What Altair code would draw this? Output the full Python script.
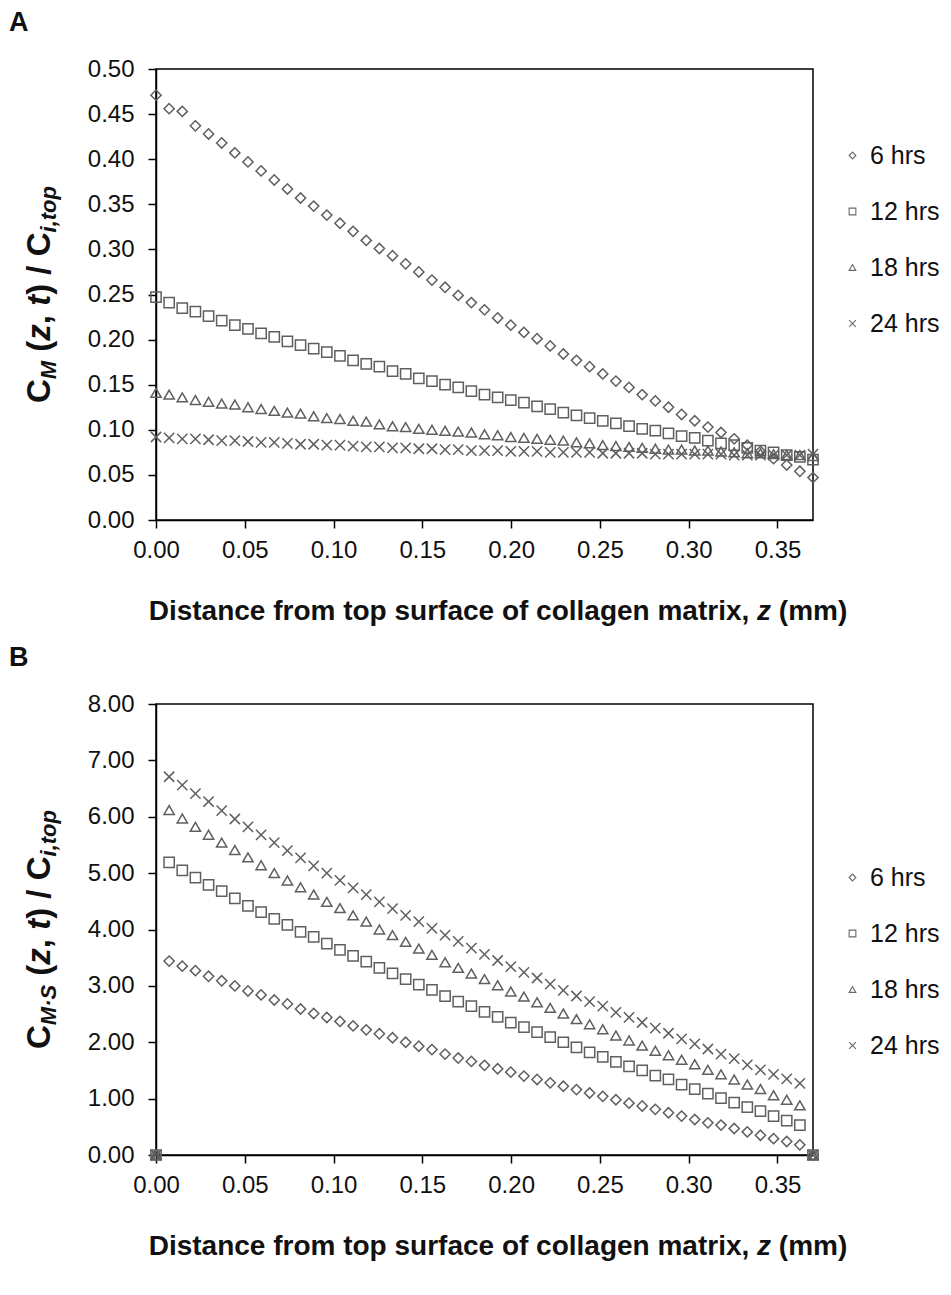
import altair as alt
import pandas as pd

# ---------------- data ----------------
Z_MM = [0.0000, 0.0074, 0.0148, 0.0222, 0.0296, 0.0370, 0.0444, 0.0518, 0.0592, 0.0666,
        0.0740, 0.0814, 0.0888, 0.0962, 0.1036, 0.1110, 0.1184, 0.1258, 0.1332, 0.1406,
        0.1480, 0.1554, 0.1628, 0.1702, 0.1776, 0.1850, 0.1924, 0.1998, 0.2072, 0.2146,
        0.2220, 0.2294, 0.2368, 0.2442, 0.2516, 0.2590, 0.2664, 0.2738, 0.2812, 0.2886,
        0.2960, 0.3034, 0.3108, 0.3182, 0.3256, 0.3330, 0.3404, 0.3478, 0.3552, 0.3626,
        0.3700]

SERIES = ["6 hrs", "12 hrs", "18 hrs", "24 hrs"]

A_6 = [0.471, 0.456, 0.453, 0.437, 0.428, 0.418, 0.407, 0.397, 0.387, 0.377, 0.367, 0.357, 0.348,
       0.338, 0.329, 0.320, 0.310, 0.301, 0.293, 0.284, 0.275, 0.266, 0.258, 0.249, 0.241, 0.233,
       0.224, 0.216, 0.208, 0.201, 0.193, 0.184, 0.177, 0.170, 0.162, 0.154, 0.147, 0.139, 0.132,
       0.125, 0.117, 0.110, 0.103, 0.097, 0.090, 0.083, 0.076, 0.068, 0.061, 0.054, 0.047]
A_12 = [0.247, 0.241, 0.235, 0.231, 0.226, 0.221, 0.216, 0.212, 0.207, 0.203, 0.198, 0.194, 0.190,
        0.186, 0.182, 0.177, 0.173, 0.170, 0.165, 0.162, 0.157, 0.154, 0.150, 0.147, 0.143, 0.139,
        0.136, 0.133, 0.130, 0.126, 0.123, 0.119, 0.116, 0.113, 0.110, 0.107, 0.104, 0.101, 0.099,
        0.096, 0.093, 0.091, 0.088, 0.085, 0.083, 0.080, 0.077, 0.075, 0.072, 0.070, 0.067]
A_18 = [0.141, 0.139, 0.136, 0.133, 0.131, 0.129, 0.128, 0.125, 0.123, 0.121, 0.119, 0.118, 0.115,
        0.113, 0.112, 0.110, 0.109, 0.106, 0.104, 0.103, 0.101, 0.100, 0.099, 0.098, 0.097, 0.095,
        0.094, 0.092, 0.091, 0.090, 0.089, 0.088, 0.086, 0.085, 0.083, 0.082, 0.081, 0.080, 0.079,
        0.078, 0.078, 0.077, 0.077, 0.076, 0.075, 0.074, 0.074, 0.073, 0.072, 0.072, 0.071]
A_24 = [0.092, 0.091, 0.090, 0.090, 0.089, 0.088, 0.088, 0.087, 0.086, 0.086, 0.085, 0.084, 0.084,
        0.083, 0.083, 0.082, 0.081, 0.081, 0.080, 0.080, 0.079, 0.079, 0.078, 0.078, 0.077, 0.077,
        0.077, 0.076, 0.076, 0.076, 0.075, 0.075, 0.075, 0.075, 0.074, 0.074, 0.074, 0.074, 0.073,
        0.073, 0.073, 0.073, 0.073, 0.073, 0.072, 0.072, 0.072, 0.072, 0.072, 0.072, 0.073]

B_6 = [0.00, 3.44, 3.35, 3.27, 3.17, 3.09, 3.00, 2.91, 2.84, 2.75, 2.68, 2.59, 2.51, 2.44, 2.37,
       2.29, 2.22, 2.15, 2.08, 2.00, 1.93, 1.87, 1.79, 1.72, 1.66, 1.59, 1.53, 1.47, 1.40, 1.34,
       1.28, 1.22, 1.16, 1.10, 1.04, 0.98, 0.92, 0.87, 0.81, 0.75, 0.69, 0.63, 0.57, 0.53, 0.47,
       0.41, 0.35, 0.29, 0.24, 0.18, 0.00]
B_12 = [0.00, 5.19, 5.05, 4.92, 4.79, 4.68, 4.55, 4.42, 4.31, 4.19, 4.08, 3.96, 3.87, 3.75, 3.64,
        3.53, 3.43, 3.32, 3.22, 3.12, 3.02, 2.93, 2.82, 2.72, 2.64, 2.54, 2.45, 2.35, 2.27, 2.18,
        2.09, 2.00, 1.91, 1.82, 1.74, 1.65, 1.57, 1.50, 1.41, 1.34, 1.25, 1.17, 1.09, 1.01, 0.93,
        0.85, 0.78, 0.69, 0.61, 0.53, 0.00]
B_18 = [0.00, 6.12, 5.97, 5.82, 5.68, 5.54, 5.41, 5.28, 5.14, 5.00, 4.87, 4.75, 4.62, 4.49, 4.38,
        4.25, 4.14, 4.00, 3.90, 3.78, 3.66, 3.55, 3.42, 3.32, 3.22, 3.12, 3.01, 2.90, 2.81, 2.71,
        2.61, 2.51, 2.41, 2.32, 2.23, 2.12, 2.03, 1.94, 1.85, 1.77, 1.69, 1.61, 1.51, 1.43, 1.34,
        1.25, 1.17, 1.06, 0.98, 0.88, 0.00]
B_24 = [0.00, 6.71, 6.56, 6.41, 6.27, 6.11, 5.96, 5.82, 5.68, 5.54, 5.40, 5.27, 5.13, 5.00, 4.87,
        4.74, 4.62, 4.49, 4.37, 4.25, 4.14, 4.02, 3.90, 3.79, 3.67, 3.56, 3.45, 3.34, 3.24, 3.14,
        3.03, 2.92, 2.82, 2.72, 2.64, 2.53, 2.44, 2.35, 2.25, 2.16, 2.06, 1.97, 1.88, 1.79, 1.71,
        1.60, 1.51, 1.43, 1.35, 1.27, 0.00]

X_TICKS = [0.00, 0.05, 0.10, 0.15, 0.20, 0.25, 0.30, 0.35]
A_TICKS = [0.00, 0.05, 0.10, 0.15, 0.20, 0.25, 0.30, 0.35, 0.40, 0.45, 0.50]
B_TICKS = [0, 1, 2, 3, 4, 5, 6, 7, 8]

X_TITLE = [("Distance from top surface of collagen matrix, ", False), ("z", True), (" (mm)", False)]
A_YTITLE = [("C", "n"), ("M", "s"), (" (", "n"), ("z", "i"), (", ", "n"), ("t", "i"),
            (") / C", "n"), ("i,top", "s")]
B_YTITLE = [("C", "n"), ("M·S", "s"), (" (", "n"), ("z", "i"), (", ", "n"), ("t", "i"),
            (") / C", "n"), ("i,top", "s")]

# ---------------- styling ----------------
W, H = 657, 451
FONT = "Liberation Sans"
SHAPES = ["diamond", "square", "triangle-up", "M-1,-1L1,1M-1,1L1,-1"]
MARK_COLOR = "#5f5f5f"
XMAX = 0.37
TICK_FS = 24
LEG_FS = 25

BOLD_W = {"A": 722, "B": 722, "C": 722, "D": 722, "M": 833, "S": 667, " ": 278, "(": 333,
          ")": 333, "z": 500, ",": 278, "t": 333, "/": 278, "i": 278, "o": 611, "p": 611,
          "·": 333, "a": 556, "c": 556, "e": 556, "f": 333, "g": 611, "h": 611, "l": 278,
          "m": 889, "n": 611, "r": 389, "s": 556, "u": 611, "x": 556}


def tw(s, size):
    return sum(BOLD_W.get(c, 556) for c in s) * size / 1000.0


ONE = pd.DataFrame({"k": [0]})


def txt(text, x, y, size, italic=False, angle=0, align="left", baseline="alphabetic",
        color="#111111", weight="bold"):
    kw = dict(text=text, fontSize=size, font=FONT, fontWeight=weight, color=color,
              angle=angle, align=align, baseline=baseline)
    if italic:
        kw["fontStyle"] = "italic"
    return alt.Chart(ONE).mark_text(**kw).encode(x=alt.value(x), y=alt.value(y))


def place(piece, pos, size):
    lead = len(piece) - len(piece.lstrip(" "))
    return piece.strip(" "), pos + tw(" " * lead, size)


def y_title(pieces, F=33, f=22, xb=-106, shift=6):
    sizes = [f if k == "s" else F for _, k in pieces]
    total = sum(tw(p, s) for (p, _), s in zip(pieces, sizes))
    y0 = H / 2 + total / 2
    marks, cum = [], 0.0
    for (p, k), s in zip(pieces, sizes):
        t, off = place(p, cum, s)
        marks.append(txt(t, xb + (shift if k == "s" else 0), y0 - off, s,
                         italic=(k != "n"), angle=270))
        cum += tw(p, s)
    return marks


def x_title(F=28, center=342, yb=H + 100):
    total = sum(tw(p, F) for p, _ in X_TITLE)
    x0 = center - total / 2
    marks, cum = [], 0.0
    for p, it in X_TITLE:
        t, off = place(p, cum, F)
        marks.append(txt(t, x0 + off, yb, F, italic=it))
        cum += tw(p, F)
    return marks


def panel(vals, ydom, yticks, ypieces, letter, first_entry_y):
    df = pd.DataFrame({
        "z": Z_MM * len(SERIES),
        "v": [v for col in vals for v in col],
        "series": [s for s in SERIES for _ in Z_MM],
    })
    pts = alt.Chart(df).mark_point(filled=False, strokeWidth=1.5, size=105, opacity=1,
                                   color=MARK_COLOR).encode(
        x=alt.X("z:Q", scale=alt.Scale(domain=[0, XMAX], nice=False, zero=False),
                axis=alt.Axis(values=X_TICKS, format=".2f", title=None, grid=False,
                              labelPadding=10, labelFlush=False, labelOverlap=False)),
        y=alt.Y("v:Q", scale=alt.Scale(domain=ydom, nice=False),
                axis=alt.Axis(values=yticks, format=".2f", title=None, grid=False,
                              labelPadding=14, labelOverlap=False)),
        shape=alt.Shape("series:N", sort=SERIES,
                        scale=alt.Scale(domain=SERIES, range=SHAPES),
                        legend=alt.Legend(title="\u00a0", titleFontSize=1,
                                          titlePadding=first_entry_y - 13,
                                          orient="right", offset=27,
                                          labelFontSize=LEG_FS, labelFont=FONT,
                                          labelColor="#111111",
                                          symbolSize=45, symbolStrokeWidth=1.1,
                                          symbolStrokeColor="#6a6a6a",
                                          rowPadding=30, labelOffset=5, padding=0)),
    )
    layers = [pts] + y_title(ypieces) + x_title() + [txt(letter, -147, -38, 27)]
    return alt.layer(*layers).properties(width=W, height=H)


panel_a = panel([A_6, A_12, A_18, A_24], [0, 0.5], A_TICKS, A_YTITLE, "A", 86)
panel_b = panel([B_6, B_12, B_18, B_24], [0, 8], B_TICKS, B_YTITLE, "B", 173)

chart = (
    alt.vconcat(panel_a, panel_b, spacing=16)
    .properties(padding=0, background="white")
    .resolve_scale(shape="independent")
    .resolve_legend(shape="independent")
    .configure_view(stroke="black", strokeWidth=1.5)
    .configure_axis(labelFont=FONT, labelFontSize=TICK_FS, labelColor="#111111",
                    tickColor="black", tickSize=8, tickWidth=1.5,
                    domainColor="black", domainWidth=1.5, grid=False)
)

chart.save("out.html", embed_options={"renderer": "svg", "actions": False})
